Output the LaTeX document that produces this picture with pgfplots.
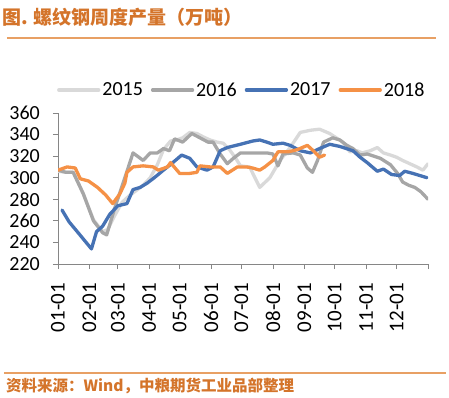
\documentclass[border=0pt]{standalone}
\usepackage{fontspec}
\usepackage{pgfplots}
\pgfplotsset{compat=1.18}
\setmainfont{Carlito}
\newfontfamily\cjk{Noto Sans CJK SC}
\definecolor{c15}{HTML}{D9D9D9}
\definecolor{c16}{HTML}{A6A6A6}
\definecolor{c17}{HTML}{4672B4}
\definecolor{c18}{HTML}{F59146}
\definecolor{ttl}{HTML}{D4742A}
\definecolor{rule}{HTML}{E8A064}
\definecolor{axc}{HTML}{868686}
\begin{document}
\begin{tikzpicture}
\useasboundingbox (-58bp,-134bp) rectangle (391bp,264bp);
\node[anchor=west, inner sep=0pt, text=ttl] at (-56bp,246.5bp) {\cjk\bfseries\fontsize{19bp}{19bp}\selectfont 图. 螺纹钢周度产量（万吨）};
\draw[rule, line width=2bp] (-51bp,226bp) -- (378bp,226bp);
\draw[rule, line width=1.5bp] (-54bp,-109bp) -- (388bp,-109bp);
\node[anchor=west, inner sep=0pt, text=ttl] at (-52bp,-122bp) {\cjk\bfseries\fontsize{15.5bp}{15.5bp}\selectfont 资料来源：Wind，中粮期货工业品部整理};
\begin{axis}[
  at={(0,0)}, anchor=origin,
  scale only axis, width=370bp, height=151bp,
  xmin=0, xmax=365, ymin=220, ymax=360,
  axis x line*=bottom, axis y line*=left,
  axis line style={axc, line width=0.8bp, -},
  tick style={axc, line width=0.8bp},
  tick align=outside, major tick length=5bp,
  xtick={0,31,59,90,120,151,181,212,243,273,304,334,365},
  xticklabels={01-01,02-01,03-01,04-01,05-01,06-01,07-01,08-01,09-01,10-01,11-01,12-01,{}},
  ytick={220,240,...,360},
  /pgf/number format/assume math mode=true,
  xticklabel style={rotate=90, anchor=east, inner sep=0pt, font=\fontsize{21bp}{21bp}\selectfont},
  yticklabel style={anchor=east, inner sep=0pt, font=\fontsize{20bp}{20bp}\selectfont},
  xticklabel shift=14bp,
  yticklabel shift=13bp,
  legend columns=4,
  legend style={at={(-0.003,1.152)}, anchor=west, draw=none, fill=none, inner sep=0pt,
    font=\fontsize{20bp}{20bp}\selectfont,
    /tikz/every even column/.append style={column sep=6bp}},
  legend image code/.code={\draw[#1] (0bp,0bp) -- (40bp,0bp);},
  every axis plot/.append style={line width=3.3bp, line join=round, line cap=round},
]
\addplot[c15] coordinates {
(0,306)(8,305)(15,305)(25,285)(35,261)(44,250)(49,252)(56,265)(63,277)(70,283)(77,288)(84,293)(91,300)(98,312)(104,326)(111,334)(117,335)(123,337)(130,342)(137,341)(143,338)(150,335)(157,333)(163,332)(170,325)(176,317)(180,311)(189,310)(199,291)(209,300)(219,316)(229,328)(239,342)(249,344)(258,345)(268,341)(281,333)(288,324)(295,325)(300,323)(308,325)(315,328)(321,323)(328,321)(334,319)(340,316)(347,313)(354,310)(360,307)(365,313)};
\addlegendentry{2015}
\addplot[c16] coordinates {
(0,307)(8,305)(15,305)(25,285)(35,260)(44,249)(48,247)(56,272)(66,300)(74,323)(84,316)(91,323)(98,323)(104,327)(110,325)(115,336)(123,333)(132,341)(140,337)(148,333)(153,333)(160,322)(167,313)(173,318)(180,323)(192,323)(206,323)(212,322)(217,311)(222,322)(232,323)(239,321)(246,309)(251,305)(256,316)(262,333)(271,337)(278,335)(285,330)(291,327)(298,321)(305,322)(318,318)(328,312)(335,304)(340,296)(346,293)(352,291)(358,287)(365,280)};
\addlegendentry{2016}
\addplot[c17] coordinates {
(4,270)(11,259)(19,250)(26,242)(33,234)(38,250)(44,255)(51,266)(59,274)(68,276)(74,289)(81,291)(88,295)(95,300)(104,307)(112,313)(122,321)(130,318)(137,310)(147,307)(153,310)(160,325)(167,328)(180,331)(192,334)(199,335)(206,333)(212,331)(222,332)(229,330)(239,325)(249,323)(258,327)(268,331)(278,329)(291,325)(298,319)(305,314)(315,306)(321,308)(329,303)(337,302)(342,306)(350,304)(357,302)(364,300)};
\addlegendentry{2017}
\addplot[c18] coordinates {
(0,307)(9,310)(17,309)(22,299)(30,297)(39,291)(47,284)(54,276)(61,285)(66,295)(68,305)(74,310)(84,311)(94,310)(99,307)(108,310)(111,314)(120,304)(130,304)(137,305)(140,311)(150,310)(160,310)(167,304)(177,310)(186,310)(192,309)(199,307)(204,310)(212,316)(217,324)(227,324)(236,326)(241,328)(246,330)(253,324)(258,319)(263,321)};
\addlegendentry{2018}
\end{axis}
\end{tikzpicture}
\end{document}
